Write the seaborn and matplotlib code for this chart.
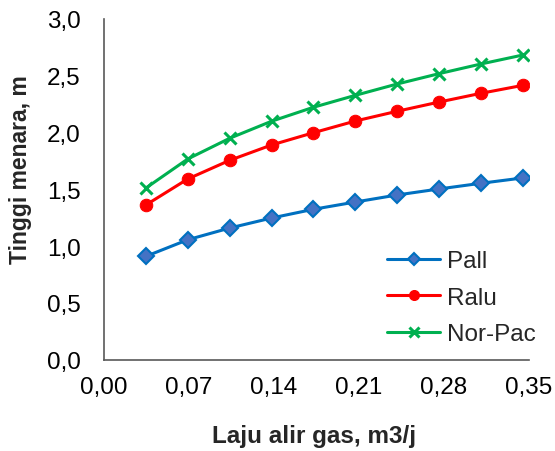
import numpy as np
import pandas as pd
import matplotlib
matplotlib.use("Agg")
import matplotlib.pyplot as plt
import seaborn as sns

# gas flow rate (m3/j) and tower height (m)
laju_gas = [0.0345, 0.069, 0.1035, 0.138, 0.1725, 0.207, 0.2415, 0.276, 0.3105, 0.345]
pall = [0.91, 1.056, 1.159, 1.247, 1.324, 1.388, 1.450, 1.503, 1.553, 1.600]
ralu = [1.362, 1.591, 1.755, 1.890, 1.998, 2.101, 2.187, 2.268, 2.345, 2.415]
norpac = [1.511, 1.767, 1.949, 2.099, 2.222, 2.327, 2.427, 2.518, 2.603, 2.682]

x_ticks = [0.00, 0.07, 0.14, 0.21, 0.28, 0.35]
y_ticks = [0.0, 0.5, 1.0, 1.5, 2.0, 2.5, 3.0]

sns.set_style("white")
plt.rcParams["font.family"] = ["Liberation Sans", "DejaVu Sans"]

df = pd.DataFrame({"x": laju_gas, "Pall": pall, "Ralu": ralu, "Nor-Pac": norpac})

fig = plt.figure(figsize=(5.55, 4.52), dpi=100)
ax = fig.add_axes([0.1874, 0.202, 0.7656, 0.754])

sns.lineplot(data=df, x="x", y="Pall", ax=ax, color="#0070C0", linewidth=2.2,
             marker="D", markersize=8, markerfacecolor="#4472C4",
             markeredgecolor="#0070C0", markeredgewidth=1.5, label="Pall")
sns.lineplot(data=df, x="x", y="Ralu", ax=ax, color="#FF0000", linewidth=2.2,
             marker="o", markersize=9, markerfacecolor="#FF0000",
             markeredgecolor="#FF0000", label="Ralu")
sns.lineplot(data=df, x="x", y="Nor-Pac", ax=ax, color="#00B050", linewidth=2.2,
             marker="x", markersize=9, markeredgewidth=2.2,
             markeredgecolor="#00B050", label="Nor-Pac")

ax.set_xlim(0, 0.35)
ax.set_ylim(0, 3.0)
ax.set_xticks(x_ticks)
ax.set_yticks(y_ticks)
ax.set_xticklabels([f"{v:.2f}".replace(".", ",") for v in x_ticks])
ax.set_yticklabels([f"{v:.1f}".replace(".", ",") for v in y_ticks])
ax.tick_params(axis="both", length=0, labelsize=17.5, colors="#000000")
ax.tick_params(axis="x", pad=12)
ax.tick_params(axis="y", pad=17)

for side in ["top", "right"]:
    ax.spines[side].set_visible(False)
for side in ["left", "bottom"]:
    ax.spines[side].set_color("#595959")
    ax.spines[side].set_linewidth(1.2)

ax.set_xlabel("Laju alir gas, m3/j", fontsize=17.5, fontweight="bold", labelpad=0)
ax.set_ylabel("Tinggi menara, m", fontsize=16.5, fontweight="bold", labelpad=0)
ax.xaxis.set_label_coords(0.494, -0.19)
ax.yaxis.set_label_coords(-0.169, 0.56)

leg = ax.legend(loc="upper left", bbox_to_anchor=(387 / 555, 1 - 251 / 452),
                bbox_transform=fig.transFigure, frameon=False, fontsize=17.5,
                borderpad=0, borderaxespad=0, handlelength=2.2,
                handletextpad=0.25, labelspacing=0.6, markerscale=0.8)

fig.savefig("out.png", dpi=100)
